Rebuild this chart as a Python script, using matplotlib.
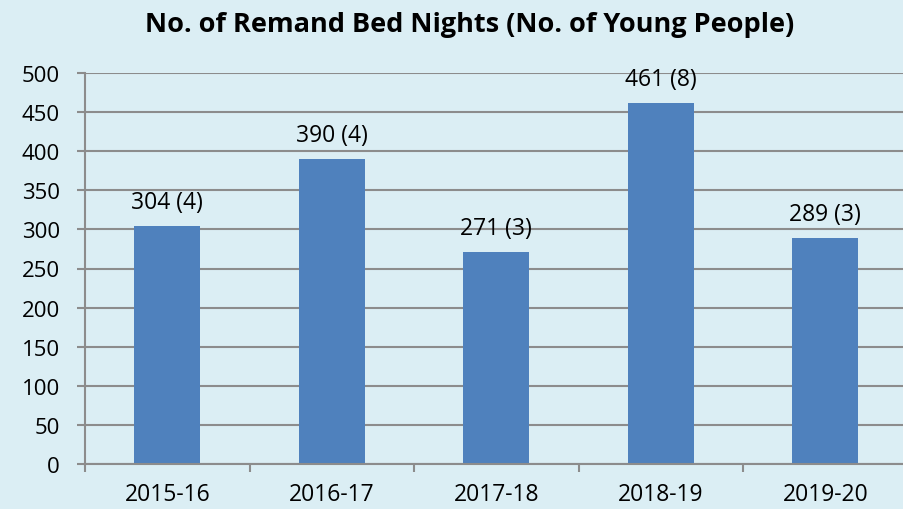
import matplotlib
matplotlib.use("Agg")
import matplotlib.pyplot as plt
import numpy as np

categories = ["2015-16", "2016-17", "2017-18", "2018-19", "2019-20"]
bed_nights = [304, 390, 271, 461, 289]
young_people = [4, 4, 3, 8, 3]
yticks = [0, 50, 100, 150, 200, 250, 300, 350, 400, 450, 500]

BG = "#DBEEF4"
BAR = "#4F81BD"
GRID = "#8C8C8C"

plt.rcParams["font.family"] = ["Open Sans", "DejaVu Sans"]

W, H = 904, 510
fig = plt.figure(figsize=(W / 100, H / 100), dpi=100, facecolor=BG)
left, right, top, bottom = 85, 907.5, 74, 465
ax = fig.add_axes([left / W, 1 - bottom / H, (right - left) / W, (bottom - top) / H])
ax.set_facecolor(BG)

x = np.arange(len(categories))
ax.bar(x, bed_nights, width=0.4, color=BAR, zorder=3)
for xi, v, n in zip(x, bed_nights, young_people):
    ax.annotate(f"{v} ({n})", (xi, v), xytext=(0, 9), textcoords="offset points",
                ha="center", va="bottom", fontsize=16.5, color="black", zorder=4)

ax.set_xlim(-0.5, len(categories) - 0.5)
ax.set_ylim(0, 500)
ax.set_yticks(yticks)
ax.set_yticklabels([str(t) for t in yticks])
ax.set_xticks(x)
ax.set_xticklabels(categories)
ax.set_xticks(np.arange(len(categories) + 1) - 0.5, minor=True)

ax.grid(axis="y", color=GRID, linewidth=1.5, zorder=0)
for s in ["top", "right"]:
    ax.spines[s].set_visible(False)
for s in ["left", "bottom"]:
    ax.spines[s].set_color(GRID)
    ax.spines[s].set_linewidth(1.5)
ax.spines["bottom"].set_zorder(5)

ax.tick_params(axis="y", length=6, width=1.5, color=GRID, labelsize=16, pad=12)
ax.tick_params(axis="x", which="major", length=0, labelsize=16.5, pad=13)
ax.tick_params(axis="x", which="minor", length=6, width=1.5, color=GRID)

fig.text(470 / W, 1 - 25 / H, "No. of Remand Bed Nights (No. of Young People)",
         ha="center", va="center", fontsize=19.5, fontweight="bold", color="black")

fig.savefig("out.png", dpi=100, facecolor=BG)
